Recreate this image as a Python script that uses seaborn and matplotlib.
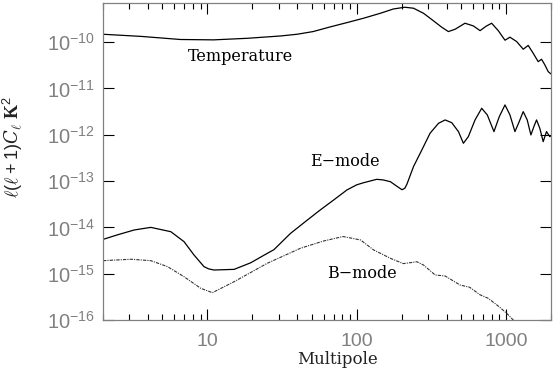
import matplotlib
matplotlib.use("Agg")
import matplotlib.pyplot as plt
import seaborn as sns
import pandas as pd
import numpy as np
from matplotlib.ticker import FixedLocator, FixedFormatter, LogLocator, NullLocator, NullFormatter

# ---- data ----
temp_l = [2, 3.6, 6.6, 11, 18.5, 31, 39.9, 51, 66.7, 86, 111, 144, 176, 210, 240, 280, 326,
          371, 411, 456, 531, 604, 670, 734, 801, 887, 984, 1062, 1177, 1304, 1407, 1520,
          1642, 1729, 1820, 1915, 2000]
temp_v = [1.48e-10, 1.33e-10, 1.14e-10, 1.12e-10, 1.21e-10, 1.36e-10, 1.48e-10, 1.69e-10,
          2.14e-10, 2.64e-10, 3.28e-10, 4.2e-10, 5.2e-10, 5.67e-10, 5.4e-10, 4.2e-10, 2.9e-10,
          2.1e-10, 1.69e-10, 1.9e-10, 2.56e-10, 2.24e-10, 1.77e-10, 2.2e-10, 2.56e-10,
          1.77e-10, 1.1e-10, 1.28e-10, 1.03e-10, 7.03e-11, 8.5e-11, 5.75e-11, 3.79e-11,
          4.27e-11, 3.22e-11, 2.31e-11, 2.05e-11]

e_l = [2, 2.5, 3.24, 4.18, 5.69, 6.98, 8.13, 9.49, 10.2, 11.07, 15.1, 19.5, 23.9, 27.9, 36,
       45, 57, 70, 86, 100, 111, 136, 150, 168, 185, 201, 210, 217, 240, 273, 310, 353, 391,
       433, 480, 518, 559, 620, 687, 749, 830, 901, 984, 1062, 1147, 1225, 1303, 1386, 1467,
       1536, 1600, 1683, 1773, 1866, 1964, 2000]
e_v = [5.5e-15, 6.9e-15, 8.8e-15, 1.0e-14, 8.07e-15, 4.91e-15, 2.54e-15, 1.42e-15, 1.27e-15,
       1.20e-15, 1.24e-15, 1.72e-15, 2.5e-15, 3.3e-15, 7.4e-15, 1.31e-14, 2.38e-14, 3.89e-14,
       6.43e-14, 8.3e-14, 9.2e-14, 1.09e-13, 1.06e-13, 9.7e-14, 7.8e-14, 6.5e-14, 7.0e-14,
       8.6e-14, 2.05e-13, 4.7e-13, 1.08e-12, 1.77e-12, 2.09e-12, 1.82e-12, 1.17e-12,
       6.55e-13, 9.1e-13, 2.09e-12, 3.73e-12, 2.68e-12, 1.17e-12, 2.46e-12, 4.41e-12,
       2.68e-12, 1.17e-12, 1.92e-12, 3.16e-12, 2.09e-12, 9.9e-13, 1.5e-12, 2.09e-12,
       1.38e-12, 7.1e-13, 1.17e-12, 9.1e-13, 9.5e-13]

b_l = [2, 3.08, 4.18, 5.41, 6.98, 9.02, 10.8, 15.1, 25.2, 42, 60, 81, 106, 130, 168, 205,
       253, 280, 335, 391, 492, 570, 670, 760, 887, 1009, 1117, 1200]
b_v = [1.91e-15, 2.05e-15, 1.91e-15, 1.42e-15, 8.6e-16, 4.84e-16, 3.89e-16, 6.71e-16,
       1.68e-15, 3.54e-15, 5.08e-15, 6.35e-15, 5.35e-15, 3.25e-15, 2.15e-15, 1.65e-15,
       1.81e-15, 1.54e-15, 9.4e-16, 8.9e-16, 5.7e-16, 5.1e-16, 3.5e-16, 2.94e-16,
       2.0e-16, 1.4e-16, 1.0e-16, 7.0e-17]

ytick_vals = [1e-10, 1e-11, 1e-12, 1e-13, 1e-14, 1e-15, 1e-16]
ytick_labels = [r"$10^{-10}$", r"$10^{-11}$", r"$10^{-12}$", r"$10^{-13}$",
                r"$10^{-14}$", r"$10^{-15}$", r"$10^{-16}$"]
xtick_vals = [10, 100, 1000]
xtick_labels = ["10", "100", "1000"]

sns.set_theme(style="ticks")
plt.rcParams["mathtext.fontset"] = "custom"
plt.rcParams["mathtext.rm"] = "Liberation Sans"
plt.rcParams["mathtext.it"] = "DejaVu Serif:italic"
plt.rcParams["mathtext.bf"] = "Liberation Serif:bold"

fig = plt.figure(figsize=(5.54, 3.70), dpi=100)
ax = fig.add_axes([103 / 554, 50 / 370, 448 / 554, 317 / 370])

df_t = pd.DataFrame({"l": temp_l, "v": temp_v})
df_e = pd.DataFrame({"l": e_l, "v": e_v})
df_b = pd.DataFrame({"l": b_l, "v": b_v})

sns.lineplot(data=df_t, x="l", y="v", ax=ax, color="black", lw=0.9)
sns.lineplot(data=df_e, x="l", y="v", ax=ax, color="black", lw=0.9)
sns.lineplot(data=df_b, x="l", y="v", ax=ax, color="#333333", lw=0.8,
             linestyle=(0, (3, 1, 1, 1)))

ax.set_xscale("log")
ax.set_yscale("log")
ax.set_xlim(2, 2000)
ax.set_ylim(1e-16, 7.0e-10)

ax.xaxis.set_major_locator(FixedLocator(xtick_vals))
ax.xaxis.set_major_formatter(FixedFormatter(xtick_labels))
ax.xaxis.set_minor_locator(LogLocator(base=10, subs=np.arange(2, 10), numticks=20))
ax.xaxis.set_minor_formatter(NullFormatter())
ax.yaxis.set_major_locator(FixedLocator(ytick_vals))
ax.yaxis.set_major_formatter(FixedFormatter(ytick_labels))
ax.yaxis.set_minor_locator(NullLocator())

gray = "#808080"
for s in ax.spines.values():
    s.set_color(gray)
    s.set_linewidth(0.9)
ax.tick_params(which="both", direction="in", top=True, right=True, colors="black",
               labelcolor="#808080")
ax.tick_params(which="major", length=8, width=0.8)
ax.tick_params(which="minor", length=4, width=0.8)
ax.tick_params(axis="y", labelsize=14.5, pad=6)
ax.tick_params(axis="x", labelsize=14, pad=9)
for lab in ax.get_xticklabels():
    lab.set_fontfamily("Liberation Sans")

ax.set_xlabel("Multipole", fontfamily="DejaVu Serif", fontsize=12, color="#222222", labelpad=0)
ax.xaxis.set_label_coords(0.524, -0.098)
ax.set_ylabel(r"$\ell(\ell+1)C_\ell\ \mathbf{K}^2$", fontsize=13, color="#222222")
ax.yaxis.set_label_coords(-0.174, 0.546)


def px_to_data(px, py):
    return 10 ** (1 + (px - 206.7) / 149.7), 10 ** (-16 + (320 - py) / 46.3)


for label, (px, py) in [("Temperature", (240, 57)), ("E\u2212mode", (345, 162)),
                        ("B\u2212mode", (362, 274))]:
    xd, yd = px_to_data(px, py)
    ax.text(xd, yd, label, ha="center", va="center", fontfamily="DejaVu Serif",
            fontsize=11.5, color="black")

ax.set_facecolor("white")
fig.patch.set_facecolor("white")
fig.savefig("out.png", dpi=100)
